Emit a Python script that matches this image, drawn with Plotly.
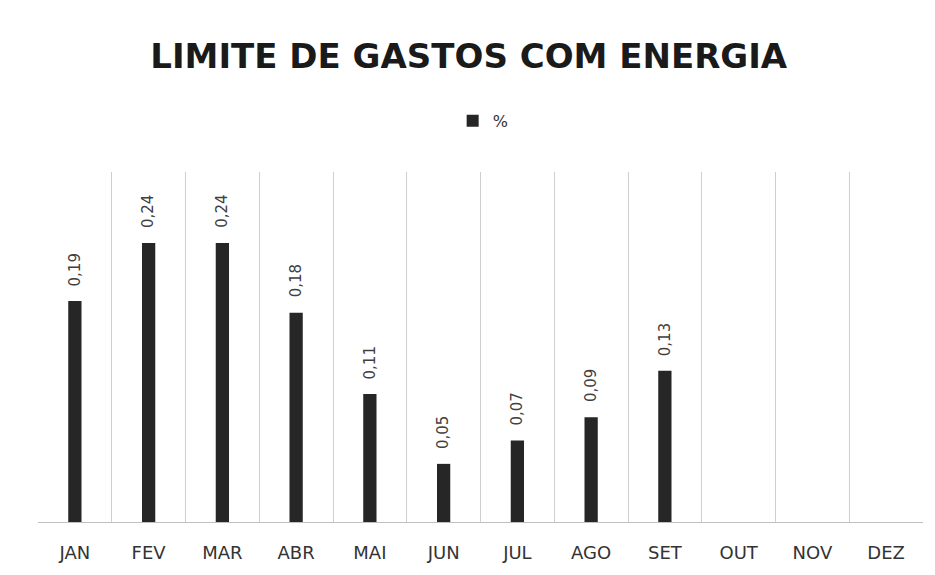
import plotly.graph_objects as go

months = ["JAN", "FEV", "MAR", "ABR", "MAI", "JUN", "JUL", "AGO", "SET", "OUT", "NOV", "DEZ"]
values = [0.19, 0.24, 0.24, 0.18, 0.11, 0.05, 0.07, 0.09, 0.13, None, None, None]
series_name = "%"
title_text = "LIMITE DE GASTOS COM ENERGIA"

fig = go.Figure()
fig.add_trace(go.Bar(
    x=months, y=values, name=series_name,
    marker=dict(color="#262626", line=dict(width=0)),
    cliponaxis=False,
))

# rotated value labels above each bar
for m, v in zip(months, values):
    if v is None:
        continue
    fig.add_annotation(
        x=m, y=v, xref="x", yref="y",
        text=f"{v:.2f}".replace(".", ","),
        textangle=-90, showarrow=False,
        xanchor="center", yanchor="bottom", yshift=13,
        font=dict(family="DejaVu Sans", size=15, color="#404040"),
    )

# page body adds an 8px offset, so the figure is sized 8px smaller
fig.update_layout(
    width=927, height=567,
    separators=",.",
    paper_bgcolor="white", plot_bgcolor="white",
    margin=dict(l=30, r=12, t=164, b=53),
    bargap=0.82,
    showlegend=True,
    title=dict(text="<b>" + title_text + "</b>", x=0.497, xanchor="center", y=0.916, yanchor="middle",
               font=dict(family="DejaVu Sans", size=34, color="#1a1a1a")),
    legend=dict(orientation="h", x=0.503, xanchor="center", y=1.146, yanchor="middle",
                font=dict(family="DejaVu Sans", size=16, color="#333333"), itemwidth=30),
    xaxis=dict(type="category", tickson="boundaries", showgrid=True, gridcolor="#cfcfcf", gridwidth=1,
               showline=True, linecolor="#bfbfbf", ticks="", ticklen=0, ticklabelstandoff=14,
               tickfont=dict(family="DejaVu Sans", size=18, color="#333333")),
    yaxis=dict(range=[0, 0.301], showgrid=False, showticklabels=False, zeroline=False, showline=False),
)

fig.write_html("out.html")
